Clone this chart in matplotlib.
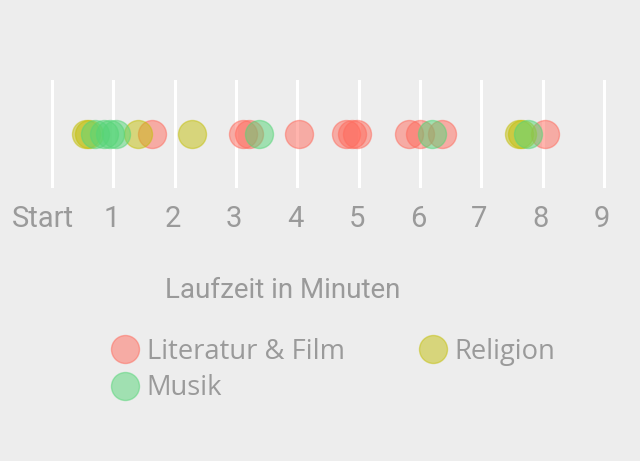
import matplotlib
matplotlib.use("Agg")
import matplotlib.pyplot as plt
import matplotlib.transforms as mtransforms
from matplotlib.lines import Line2D

# Data (minutes)
categories = ["Literatur & Film", "Musik", "Religion"]
literatur_film = [1.63, 3.11, 3.22, 4.03, 4.79, 4.89, 4.98, 5.82, 6.00, 6.36, 8.03]
musik = [0.70, 0.85, 0.94, 1.04, 3.38, 6.20, 7.76]
religion = [0.55, 0.60, 1.40, 2.28, 7.61, 7.67]
tick_values = [0, 1, 2, 3, 4, 5, 6, 7, 8, 9]
tick_labels = ["Start", "1", "2", "3", "4", "5", "6", "7", "8", "9"]

colors = {"Literatur & Film": "#ff6a5c", "Musik": "#55d577", "Religion": "#c3bf0a"}
series = {"Literatur & Film": literatur_film, "Musik": musik, "Religion": religion}

W, H = 640, 461
BG = "#ededed"
TXT = "#9a9a9a"
TICKFONT = ["Roboto", "DejaVu Sans"]

fig = plt.figure(figsize=(W / 100, H / 100), dpi=100, facecolor=BG)

# axes: 0 -> px 52, 9 -> px 604
ppu = (604 - 52) / 9.0
left_px, right_px = 20, 620
top_px, bot_px = 80, 188
ax = fig.add_axes([left_px / W, 1 - bot_px / H, (right_px - left_px) / W, (bot_px - top_px) / H])
ax.set_facecolor(BG)
ax.set_xlim((left_px - 52) / ppu, (right_px - 52) / ppu)
ax.set_ylim(-1, 1)
for s in ax.spines.values():
    s.set_visible(False)
ax.set_yticks([])
ax.set_xticks(tick_values)
ax.set_xticklabels(tick_labels)
ax.tick_params(axis="x", length=0, pad=12, labelsize=21, labelcolor=TXT)
for i, lbl in enumerate(ax.get_xticklabels()):
    lbl.set_family(TICKFONT)
    dx = -9.5 if i == 0 else -2
    lbl.set_transform(lbl.get_transform() + mtransforms.ScaledTranslation(dx / 100, 0, fig.dpi_scale_trans))
ax.grid(axis="x", color="white", linewidth=2.2)
ax.set_axisbelow(True)

msize = 28 * 0.72
for cat in ["Literatur & Film", "Religion", "Musik"]:
    vals = series[cat]
    ax.scatter(vals, [0] * len(vals), s=msize ** 2, color=colors[cat], alpha=0.5,
               edgecolors=colors[cat], linewidths=1.0, zorder=3)

fig.text(283 / W, 1 - 291 / H, "Laufzeit in Minuten", ha="center", va="center",
         fontsize=20, color=TXT, family=TICKFONT)

handles = [Line2D([], [], linestyle="none", marker="o", markersize=msize,
                  markerfacecolor=colors[c], markeredgecolor=colors[c], alpha=0.5)
           for c in categories]
leg = fig.legend(handles, categories, ncol=2, frameon=False, loc="upper left",
                 bbox_to_anchor=(111 / W, 1 - 338 / H), prop={"family": "Open Sans", "size": 19.7},
                 handlelength=1.0, handletextpad=0.3, columnspacing=2.72, labelspacing=0.3,
                 borderpad=0, borderaxespad=0)
for t in leg.get_texts():
    t.set_color(TXT)

fig.savefig("out.png", dpi=100, facecolor=BG)
